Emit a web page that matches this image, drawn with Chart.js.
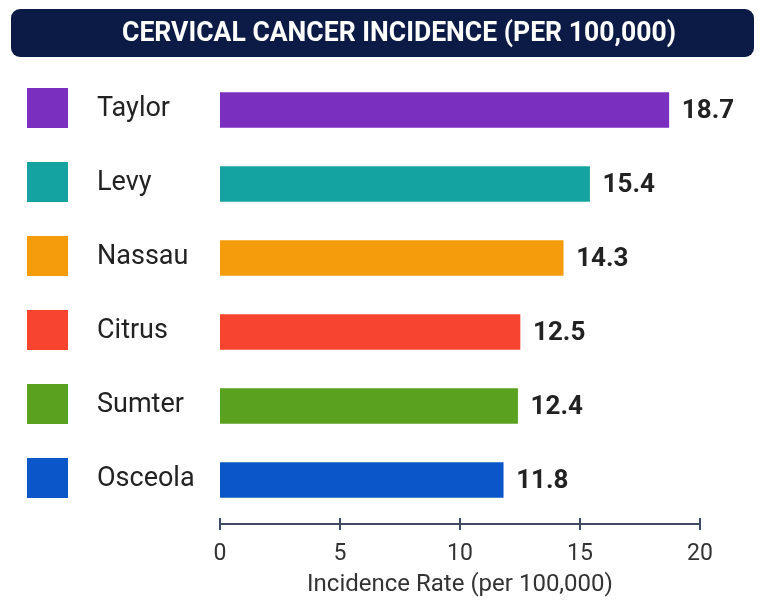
<!DOCTYPE html>
<html>
<head>
<meta charset="utf-8">
<script src="https://cdn.jsdelivr.net/npm/chart.js@4"></script>
<style>
  html, body { margin: 0; padding: 0; background: #fff; }
  #wrap { width: 764px; height: 603px; position: relative; }
</style>
</head>
<body>
<div id="wrap"><canvas id="incidenceChart" width="764" height="603"></canvas></div>
<script>
const counties = ['Taylor', 'Levy', 'Nassau', 'Citrus', 'Sumter', 'Osceola'];
const rates = [18.7, 15.4, 14.3, 12.5, 12.4, 11.8];
const barColors = ['#7b2fbe', '#15a3a1', '#f59c0c', '#f6442f', '#5aa11f', '#0b56c9'];
const xTicks = [0, 5, 10, 15, 20];
const chartTitle = 'CERVICAL CANCER INCIDENCE (PER 100,000)';
const axisTitle = 'Incidence Rate (per 100,000)';

const TEXT = '#222';
const AXIS = '#3e4a66';

// title banner, color squares + county names, value labels, axis line
const decorPlugin = {
  id: 'decor',
  beforeDraw(chart) {
    const ctx = chart.ctx;
    ctx.save();
    ctx.fillStyle = '#0c1a46';
    ctx.beginPath();
    ctx.roundRect(11, 9, 743, 48, 9);
    ctx.fill();
    ctx.fillStyle = '#fff';
    ctx.font = 'bold 28px Roboto, sans-serif';
    ctx.textAlign = 'center';
    ctx.textBaseline = 'middle';
    ctx.fillText(chartTitle, 399, 34, 554);
    ctx.restore();
  },
  afterDatasetsDraw(chart) {
    const ctx = chart.ctx;
    const yScale = chart.scales.y;
    const xScale = chart.scales.x;
    const meta = chart.getDatasetMeta(0);
    ctx.save();
    counties.forEach((name, i) => {
      const cy = yScale.getPixelForValue(i);
      ctx.fillStyle = barColors[i];
      ctx.fillRect(27, cy - 22, 41, 40);
      ctx.fillStyle = TEXT;
      ctx.font = '27px Roboto, sans-serif';
      ctx.textAlign = 'left';
      ctx.textBaseline = 'middle';
      ctx.fillText(name, 97, cy - 1);

      const bar = meta.data[i];
      ctx.font = 'bold 26px Roboto, sans-serif';
      ctx.fillText(rates[i].toFixed(1), bar.x + 13, bar.y + 1);
    });

    // axis line with ticks crossing it
    const ay = chart.chartArea.bottom + 7;
    ctx.strokeStyle = AXIS;
    ctx.lineWidth = 2;
    ctx.beginPath();
    ctx.moveTo(xScale.getPixelForValue(xTicks[0]), ay);
    ctx.lineTo(xScale.getPixelForValue(xTicks[xTicks.length - 1]), ay);
    xTicks.forEach(t => {
      const px = xScale.getPixelForValue(t);
      ctx.moveTo(px, ay - 6);
      ctx.lineTo(px, ay + 6);
    });
    ctx.stroke();
    ctx.restore();
  }
};

new Chart(document.getElementById('incidenceChart'), {
  type: 'bar',
  data: {
    labels: counties,
    datasets: [{
      data: rates,
      backgroundColor: barColors,
      borderWidth: 0,
      barThickness: 35
    }]
  },
  options: {
    indexAxis: 'y',
    responsive: false,
    animation: false,
    devicePixelRatio: 1,
    layout: { padding: { top: 73, left: 220, right: 64, bottom: 0 } },
    plugins: {
      legend: { display: false },
      tooltip: { enabled: false }
    },
    scales: {
      y: { display: false },
      x: {
        min: 0,
        max: 20,
        afterBuildTicks: axis => { axis.ticks = xTicks.map(v => ({ value: v })); },
        afterFit: axis => { axis.height = 86; },
        grid: { display: false, drawTicks: false },
        border: { display: false },
        ticks: {
          color: '#333',
          padding: 23,
          font: { family: 'Roboto, sans-serif', size: 23 }
        },
        title: {
          display: true,
          text: axisTitle,
          color: '#333',
          padding: { top: 0, bottom: 4 },
          font: { family: 'Roboto, sans-serif', size: 24 }
        }
      }
    }
  },
  plugins: [decorPlugin]
});
</script>
</body>
</html>
